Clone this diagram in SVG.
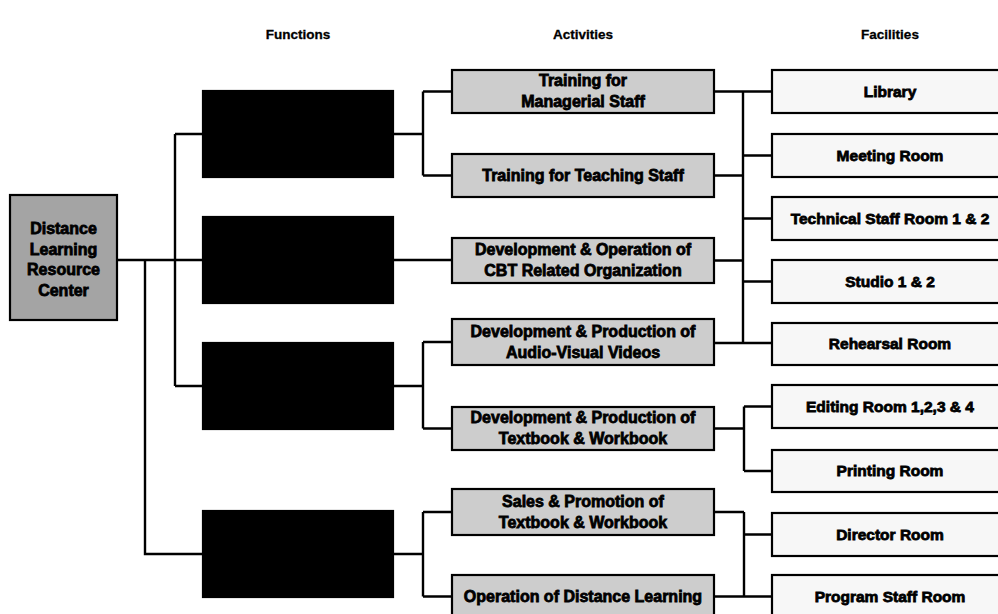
<svg xmlns="http://www.w3.org/2000/svg" width="998" height="614" viewBox="0 0 998 614">
<style>
  .hdr { font-family: "Liberation Sans", Arial, sans-serif; font-weight: bold; font-size: 13.5px; fill: #000; stroke: #000; stroke-width: 0.3; text-anchor: middle; }
  .lbl { font-family: "Liberation Sans", Arial, sans-serif; font-weight: bold; font-size: 16px; fill: #000; stroke: #000; stroke-width: 0.8; text-anchor: middle; }
  .fl { font-size: 15.5px; }
  .box { stroke: #000; stroke-width: 2.2; }
  .root { fill: #a4a4a4; }
  .func { fill: #000; }
  .act { fill: #cdcdcd; }
  .fac { fill: #f7f7f7; }
  .conn { fill: none; stroke: #000; stroke-width: 2.4; }
</style>
<rect width="998" height="614" fill="#fff"/>

<g id="headers">
  <text class="hdr" x="298" y="39">Functions</text>
  <text class="hdr" x="583" y="39">Activities</text>
  <text class="hdr" x="890" y="39">Facilities</text>
</g>

<g id="connectors" class="conn">
  <path d="M117 260 H203"/>
  <path d="M145 260 V554 H203"/>
  <path d="M175 134 V386 M175 134 H203 M175 386 H203"/>
  <path d="M393 134 H423 M423 91.5 V175.5 M423 91.5 H452 M423 175.5 H452"/>
  <path d="M393 260 H452"/>
  <path d="M393 386 H423 M423 342 V428.5 M423 342 H452 M423 428.5 H452"/>
  <path d="M393 554 H423 M423 512 V596.5 M423 512 H452 M423 596.5 H452"/>
  <path d="M714 91.5 H772 M743 91.5 V343 M714 175.5 H743 M714 260.5 H743 M714 343 H772 M743 155.5 H772 M743 218.5 H772 M743 281.5 H772"/>
  <path d="M714 428.5 H744 M744 406.5 V471 M744 406.5 H772 M744 471 H772"/>
  <path d="M714 512 H744 M744 512 V596.5 M744 534.5 H772 M714 596.5 H772"/>
</g>

<g id="root">
  <rect class="box root" x="10" y="195" width="107" height="125"/>
  <text class="lbl" x="63.5" y="234">Distance</text>
  <text class="lbl" x="63.5" y="255">Learning</text>
  <text class="lbl" x="63.5" y="275">Resource</text>
  <text class="lbl" x="63.5" y="296">Center</text>
</g>

<g id="func1"><rect class="box func" x="203" y="91" width="190" height="86"/></g>
<g id="func2"><rect class="box func" x="203" y="217" width="190" height="86"/></g>
<g id="func3"><rect class="box func" x="203" y="343" width="190" height="86"/></g>
<g id="func4"><rect class="box func" x="203" y="511" width="190" height="86"/></g>

<g id="act1">
  <rect class="box act" x="452" y="70" width="262" height="43"/>
  <text class="lbl" x="583" y="86">Training for</text>
  <text class="lbl" x="583" y="107">Managerial Staff</text>
</g>
<g id="act2">
  <rect class="box act" x="452" y="154" width="262" height="43"/>
  <text class="lbl" x="583" y="181">Training for Teaching Staff</text>
</g>
<g id="act3">
  <rect class="box act" x="452" y="238" width="262" height="45"/>
  <text class="lbl" x="583" y="255">Development &amp; Operation of</text>
  <text class="lbl" x="583" y="276">CBT Related Organization</text>
</g>
<g id="act4">
  <rect class="box act" x="452" y="319" width="262" height="46"/>
  <text class="lbl" x="583" y="337">Development &amp; Production of</text>
  <text class="lbl" x="583" y="358">Audio-Visual Videos</text>
</g>
<g id="act5">
  <rect class="box act" x="452" y="407" width="262" height="43"/>
  <text class="lbl" x="583" y="423">Development &amp; Production of</text>
  <text class="lbl" x="583" y="444">Textbook &amp; Workbook</text>
</g>
<g id="act6">
  <rect class="box act" x="452" y="489" width="262" height="46"/>
  <text class="lbl" x="583" y="507">Sales &amp; Promotion of</text>
  <text class="lbl" x="583" y="528">Textbook &amp; Workbook</text>
</g>
<g id="act7">
  <rect class="box act" x="452" y="575" width="262" height="43"/>
  <text class="lbl" x="583" y="602">Operation of Distance Learning</text>
</g>

<g id="fac1"><rect class="box fac" x="772" y="70" width="240" height="43"/><text class="lbl fl" x="890" y="97">Library</text></g>
<g id="fac2"><rect class="box fac" x="772" y="134" width="240" height="43"/><text class="lbl fl" x="890" y="161">Meeting Room</text></g>
<g id="fac3"><rect class="box fac" x="772" y="197" width="240" height="43"/><text class="lbl fl" x="890" y="224">Technical Staff Room 1 &amp; 2</text></g>
<g id="fac4"><rect class="box fac" x="772" y="260" width="240" height="43"/><text class="lbl fl" x="890" y="287">Studio 1 &amp; 2</text></g>
<g id="fac5"><rect class="box fac" x="772" y="323" width="240" height="42"/><text class="lbl fl" x="890" y="349">Rehearsal Room</text></g>
<g id="fac6"><rect class="box fac" x="772" y="385" width="240" height="43"/><text class="lbl fl" x="890" y="412">Editing Room 1,2,3 &amp; 4</text></g>
<g id="fac7"><rect class="box fac" x="772" y="450" width="240" height="42"/><text class="lbl fl" x="890" y="476">Printing Room</text></g>
<g id="fac8"><rect class="box fac" x="772" y="513" width="240" height="43"/><text class="lbl fl" x="890" y="540">Director Room</text></g>
<g id="fac9"><rect class="box fac" x="772" y="575" width="240" height="43"/><text class="lbl fl" x="890" y="602">Program Staff Room</text></g>
</svg>
